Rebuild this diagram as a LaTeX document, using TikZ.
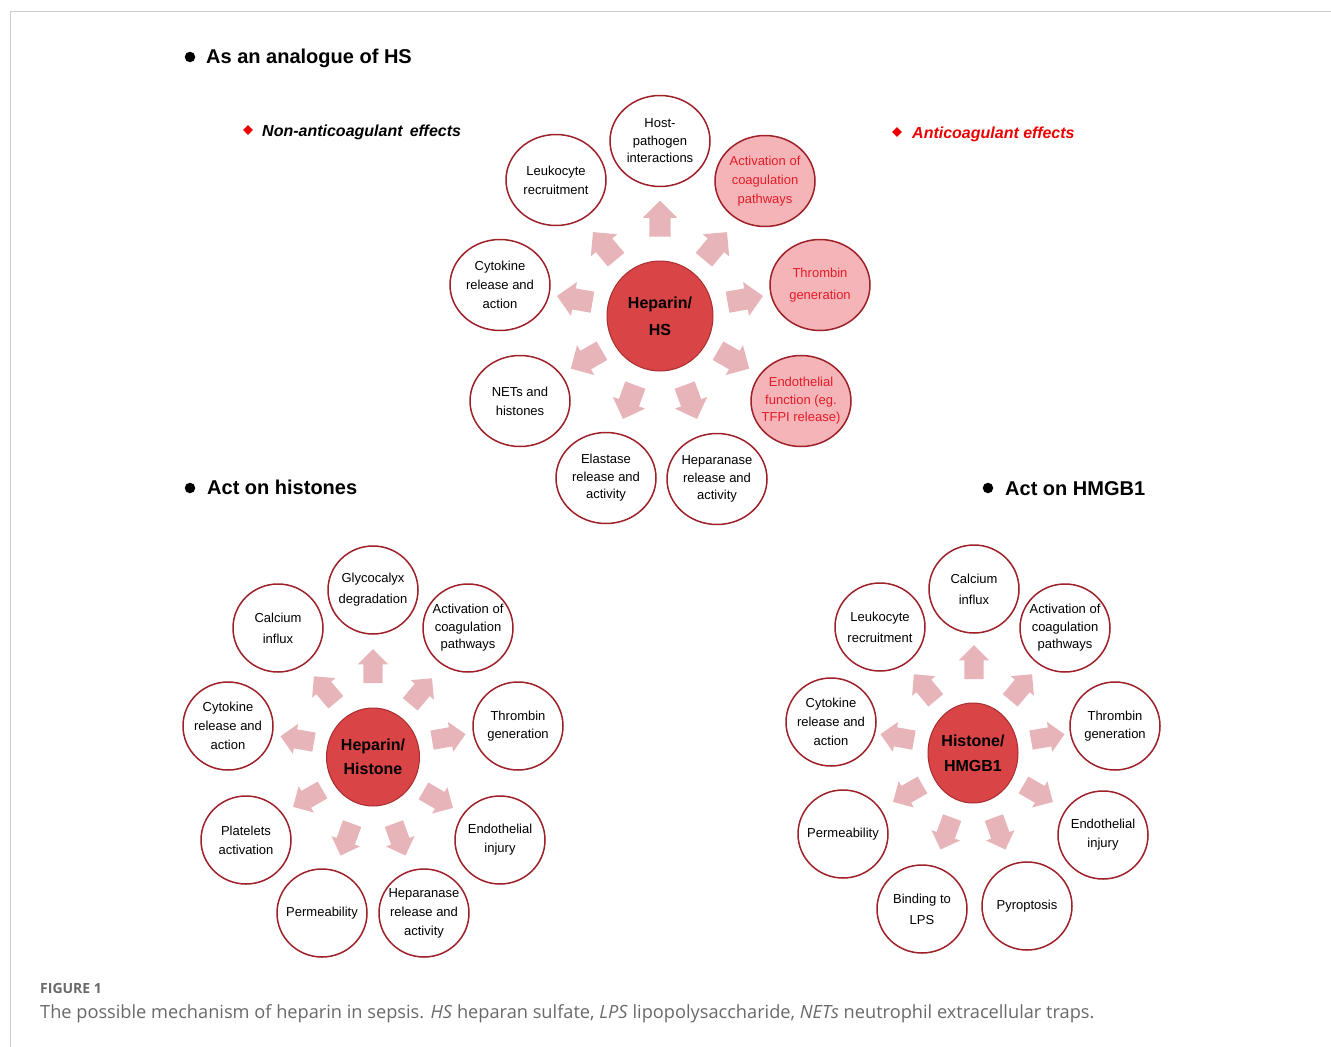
\documentclass[tikz,border=0pt]{standalone}
\usepackage{fontspec}
\setmainfont{Liberation Sans}
\newfontfamily\captionfont{Open Sans}
\usetikzlibrary{shapes.geometric,shapes.arrows}

\definecolor{ringred}{RGB}{158,32,40}
\definecolor{pinkfill}{RGB}{244,180,184}
\definecolor{pinktext}{RGB}{228,28,40}
\definecolor{hubred}{RGB}{217,68,70}
\definecolor{hubedge}{RGB}{168,45,48}
\definecolor{spokepink}{RGB}{230,180,185}
\definecolor{markred}{RGB}{236,0,0}
\definecolor{framegray}{RGB}{204,204,204}
\definecolor{captiongray}{RGB}{105,105,105}

\begin{document}
\begin{tikzpicture}
  \tikzset{
    ring/.style={
      ellipse,
      draw=ringred,
      line width=1.5pt,
      fill=white,
      minimum width=100pt,
      minimum height=91pt,
      inner sep=-8pt,
      align=center,
      font=\fontsize{13}{19}\selectfont
    },
    pinkring/.style={ring, fill=pinkfill, text=pinktext},
    smallring/.style={ring, minimum width=90pt, minimum height=88pt},
    tight/.style={font=\fontsize{13}{17.5}\selectfont},
    loose/.style={font=\fontsize{13}{21}\selectfont},
    hub/.style={
      ellipse,
      draw=hubedge,
      line width=1pt,
      fill=hubred,
      inner sep=-8pt,
      align=center,
      font=\bfseries\fontsize{16}{25}\selectfont
    },
    spoke/.style={
      single arrow,
      draw=none,
      fill=spokepink,
      minimum height=36pt,
      inner xsep=0pt,
      inner ysep=10.5pt,
      single arrow head extend=6.5pt
    },
    smallspoke/.style={spoke, minimum height=34pt, inner ysep=9.5pt, single arrow head extend=5.5pt},
    heading/.style={anchor=base west, inner sep=0pt, font=\bfseries\fontsize{20}{24}\selectfont},
    dot/.style={circle, fill=black, minimum size=10.5pt, inner sep=0pt},
    subheading/.style={anchor=base west, inner sep=0pt, font=\bfseries\itshape\fontsize{16}{19}\selectfont},
    gem/.style={diamond, fill=markred, minimum size=10pt, inner sep=0pt},
    caption/.style={anchor=base west, inner sep=0pt, text=captiongray}
  }

  \useasboundingbox (0pt,0pt) rectangle (1331pt,-1047pt);
  \draw[framegray, line width=1pt] (10pt,-1047pt) -- (10pt,-11pt) -- (1331pt,-11pt);

  % headings
  \node[dot] (dot1) at (190pt,-57pt) {};
  \node[heading] (analogue) at (206pt,-63pt) {As an analogue of HS};
  \node[dot] (dot2) at (190pt,-488pt) {};
  \node[heading] (histones) at (207pt,-494pt) {Act on histones};
  \node[dot] (dot3) at (988pt,-488pt) {};
  \node[heading] (hmgb) at (1005pt,-495pt) {Act on HMGB1};

  \node[gem] (gem1) at (248pt,-130pt) {};
  \node[subheading] (nonanti) at (262pt,-136pt) {Non-anticoagulant \,effects};
  \node[gem] (gem2) at (897pt,-132pt) {};
  \node[subheading, text=markred] (anti) at (912pt,-138pt) {Anticoagulant effects};

  % heparin / HS
  \node[hub, minimum width=106pt, minimum height=110pt, font=\bfseries\fontsize{16}{27}\selectfont] (hs) at (660pt,-316pt) {Heparin/\\HS};
  \node[ring, tight] (hostpath) at (660pt,-141pt) {Host-\\pathogen\\interactions};
  \node[pinkring] (coagtop) at (765pt,-181pt) {Activation of\\coagulation\\pathways};
  \node[pinkring, font=\fontsize{13}{22}\selectfont] (thrombtop) at (820pt,-285pt) {Thrombin\\generation};
  \node[pinkring, tight] (endotop) at (801pt,-401pt) {Endothelial\\function (eg.\\TFPI release)};
  \node[ring, tight] (heparatop) at (717pt,-479pt) {Heparanase\\release and\\activity};
  \node[ring, tight] (elastase) at (606pt,-478pt) {Elastase\\release and\\activity};
  \node[ring] (nets) at (520pt,-401pt) {NETs and\\histones};
  \node[ring] (cytotop) at (500pt,-285pt) {Cytokine\\release and\\action};
  \node[ring] (leukotop) at (556pt,-180pt) {Leukocyte\\recruitment};

  \node[spoke, rotate=90] (hsa1) at (660pt,-224pt) {};
  \node[spoke, rotate=50] (hsa2) at (712pt,-250pt) {};
  \node[spoke, rotate=10] (hsa3) at (740pt,-300pt) {};
  \node[spoke, rotate=-30] (hsa4) at (729pt,-357pt) {};
  \node[spoke, rotate=-70] (hsa5) at (689pt,-397pt) {};
  \node[spoke, rotate=-110] (hsa6) at (631pt,-397pt) {};
  \node[spoke, rotate=-150] (hsa7) at (591pt,-357pt) {};
  \node[spoke, rotate=170] (hsa8) at (580pt,-300pt) {};
  \node[spoke, rotate=130] (hsa9) at (608pt,-250pt) {};

  % heparin / histone
  \node[hub, minimum width=93pt, minimum height=98pt, font=\bfseries\fontsize{16}{24}\selectfont] (hh) at (373pt,-757pt) {Heparin/\\Histone};
  \node[smallring, loose] (glyco) at (373pt,-590pt) {Glycocalyx\\degradation};
  \node[smallring, tight] (coagleft) at (468pt,-628pt) {Activation of\\coagulation\\pathways};
  \node[smallring, tight] (thrombleft) at (518pt,-726pt) {Thrombin\\generation};
  \node[smallring] (endoleft) at (500pt,-840pt) {Endothelial\\injury};
  \node[smallring] (heparaleft) at (424pt,-913pt) {Heparanase\\release and\\activity};
  \node[smallring] (permleft) at (322pt,-913pt) {Permeability};
  \node[smallring] (platelets) at (246pt,-840pt) {Platelets\\activation};
  \node[smallring] (cytoleft) at (228pt,-726pt) {Cytokine\\release and\\action};
  \node[smallring, loose] (calcleft) at (278pt,-628pt) {Calcium\\influx};

  \node[smallspoke, rotate=90] (hha1) at (373pt,-671pt) {};
  \node[smallspoke, rotate=50] (hha2) at (418pt,-695pt) {};
  \node[smallspoke, rotate=10] (hha3) at (444pt,-738pt) {};
  \node[smallspoke, rotate=-30] (hha4) at (434pt,-797pt) {};
  \node[smallspoke, rotate=-70] (hha5) at (398pt,-835pt) {};
  \node[smallspoke, rotate=-110] (hha6) at (348pt,-835pt) {};
  \node[smallspoke, rotate=-150] (hha7) at (312pt,-796pt) {};
  \node[smallspoke, rotate=170] (hha8) at (302pt,-740pt) {};
  \node[smallspoke, rotate=130] (hha9) at (328pt,-693pt) {};

  % histone / HMGB1
  \node[hub, minimum width=90pt, minimum height=100pt] (hm) at (973pt,-753pt) {Histone/\\HMGB1};
  \node[smallring, loose] (calcright) at (974pt,-589pt) {Calcium\\influx};
  \node[smallring, tight] (coagright) at (1065pt,-628pt) {Activation of\\coagulation\\pathways};
  \node[smallring, tight] (thrombright) at (1115pt,-726pt) {Thrombin\\generation};
  \node[smallring] (endoright) at (1103pt,-835pt) {Endothelial\\injury};
  \node[smallring] (pyro) at (1027pt,-906pt) {Pyroptosis};
  \node[smallring, loose] (lps) at (922pt,-909pt) {Binding to\\LPS};
  \node[smallring] (permright) at (843pt,-834pt) {Permeability};
  \node[smallring] (cytoright) at (831pt,-722pt) {Cytokine\\release and\\action};
  \node[smallring, loose] (leukoright) at (880pt,-627pt) {Leukocyte\\recruitment};

  \node[smallspoke, rotate=90] (hma1) at (974pt,-667pt) {};
  \node[smallspoke, rotate=50] (hma2) at (1018pt,-691pt) {};
  \node[smallspoke, rotate=10] (hma3) at (1043pt,-738pt) {};
  \node[smallspoke, rotate=-30] (hma4) at (1034pt,-791pt) {};
  \node[smallspoke, rotate=-70] (hma5) at (998pt,-829pt) {};
  \node[smallspoke, rotate=-110] (hma6) at (948pt,-829pt) {};
  \node[smallspoke, rotate=-150] (hma7) at (912pt,-791pt) {};
  \node[smallspoke, rotate=170] (hma8) at (902pt,-738pt) {};
  \node[smallspoke, rotate=130] (hma9) at (928pt,-691pt) {};

  % caption
  \node[caption, font=\captionfont\bfseries\fontsize{14}{16}\selectfont] (figno) at (40pt,-993pt) {FIGURE 1};
  \node[caption, font=\captionfont\fontsize{18.2}{21}\selectfont] (captext) at (40pt,-1018pt) {The possible mechanism of heparin in sepsis. \textit{HS} heparan sulfate, \textit{LPS} lipopolysaccharide, \textit{NETs} neutrophil extracellular traps.};
\end{tikzpicture}
\end{document}
